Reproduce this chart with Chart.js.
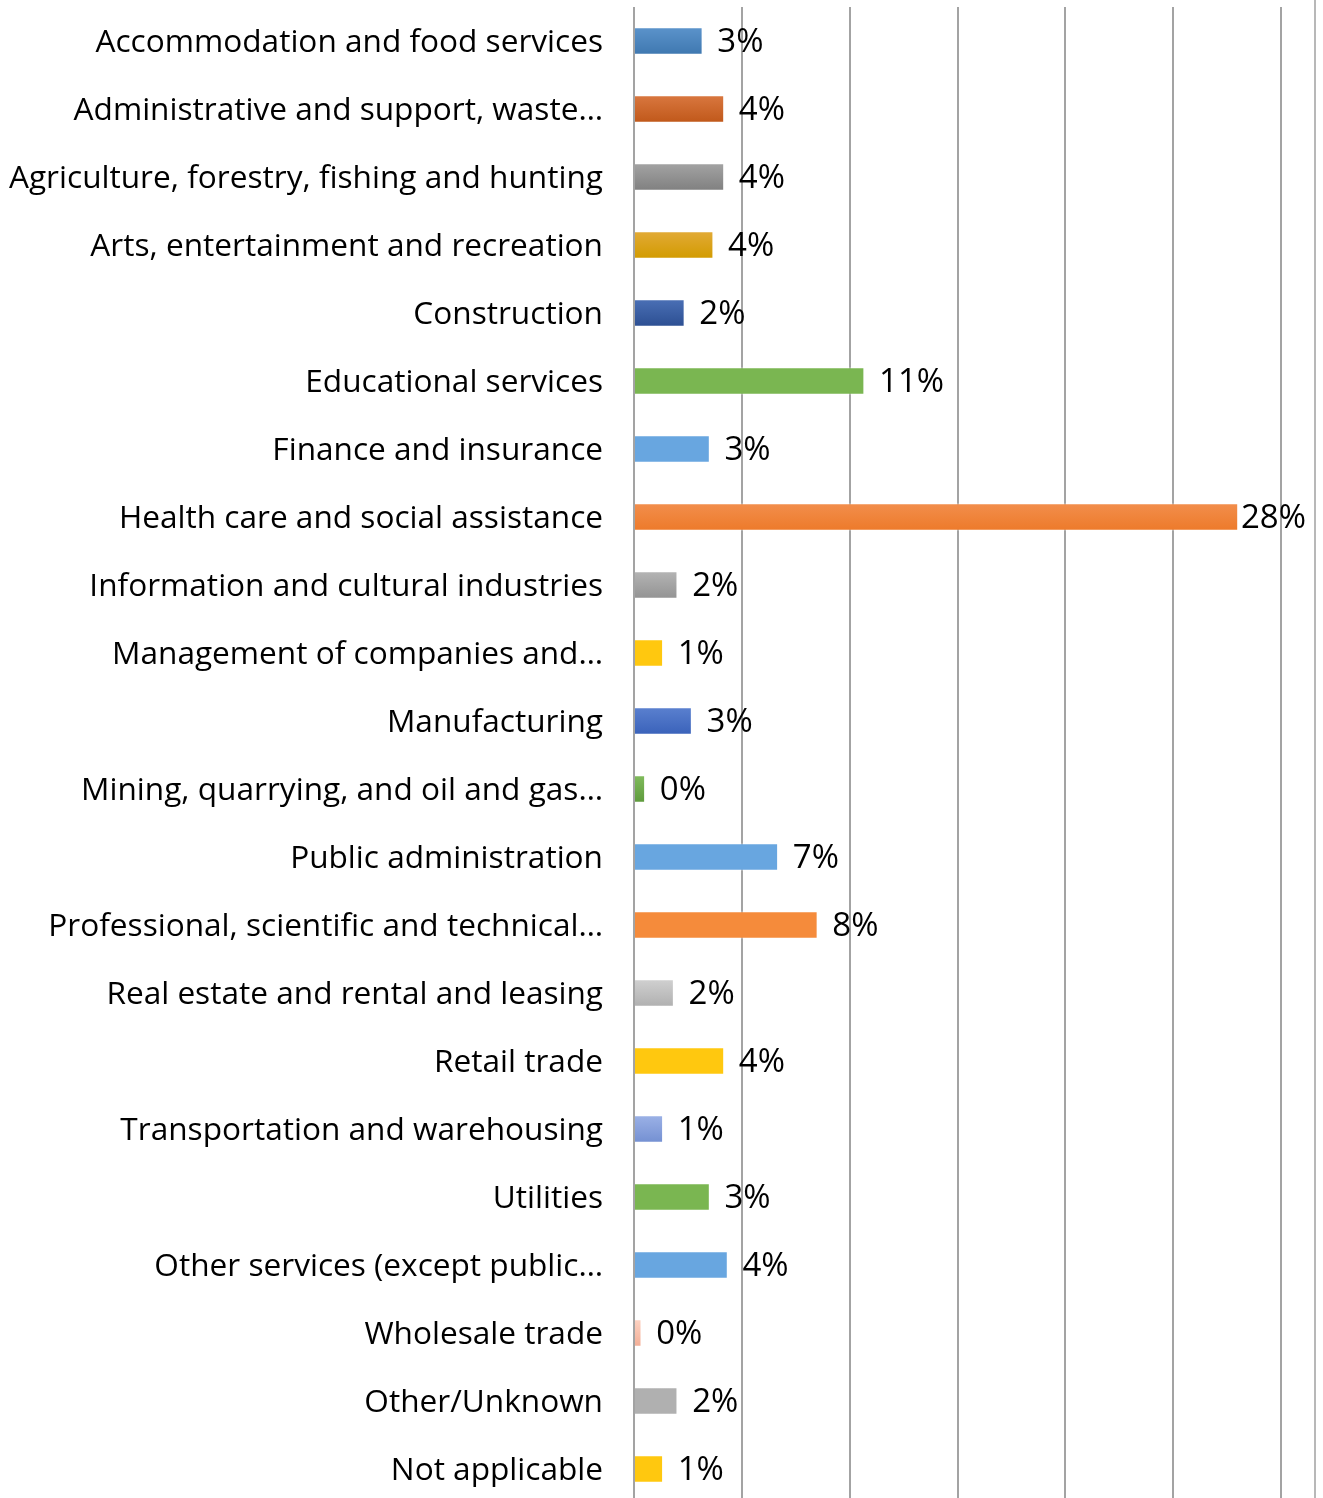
<!DOCTYPE html>
<html>
<head>
<meta charset="utf-8">
<script src="https://cdn.jsdelivr.net/npm/chart.js@4"></script>
<style>
  html, body { margin: 0; padding: 0; background: #ffffff; width: 1323px; height: 1498px; overflow: hidden; }
  #wrap { position: relative; width: 1323px; height: 1510px; }
  #frame { position: absolute; left: 1314px; top: 0; width: 2px; height: 1510px; background: #b8b8b8; }
</style>
</head>
<body>
<div id="wrap">
  <canvas id="c" width="1323" height="1510"></canvas>
  <div id="frame"></div>
</div>
<script>
// ---- data ----
const categories = [
  "Accommodation and food services",
  "Administrative and support, waste…",
  "Agriculture, forestry, fishing and hunting",
  "Arts, entertainment and recreation",
  "Construction",
  "Educational services",
  "Finance and insurance",
  "Health care and social assistance",
  "Information and cultural industries",
  "Management of companies and…",
  "Manufacturing",
  "Mining, quarrying, and oil and gas…",
  "Public administration",
  "Professional, scientific and technical…",
  "Real estate and rental and leasing",
  "Retail trade",
  "Transportation and warehousing",
  "Utilities",
  "Other services (except public…",
  "Wholesale trade",
  "Other/Unknown",
  "Not applicable"
];
// bar lengths (respondent counts)
const counts = [19, 25, 25, 22, 14, 64, 21, 168, 12, 8, 16, 3, 40, 51, 11, 25, 8, 21, 26, 2, 12, 8];
// data labels as printed
const pctLabels = ["3%", "4%", "4%", "4%", "2%", "11%", "3%", "28%", "2%", "1%", "3%", "0%", "7%", "8%", "2%", "4%", "1%", "3%", "4%", "0%", "2%", "1%"];
// axis
const axisMin = 0;
const axisMax = 180;
const axisStep = 30;

// ---- styles ----
const colorTop = ["#5b93cb", "#d9773f", "#a3a3a3", "#e2aa36", "#4a6fb5", "#7ab651", "#68a6e0", "#f28e4c", "#b4b4b4", "#ffc80f", "#5a80cf", "#80bb5c", "#68a6e0", "#f58b3b", "#d0d0d0", "#ffc80f", "#9bb1e6", "#7ab651", "#68a6e0", "#fcd2c2", "#b0b0b0", "#ffc80f"];
const colorBottom = ["#3f78b0", "#c0581a", "#808080", "#d29b00", "#2c4f92", "#7ab651", "#68a6e0", "#ed7a2a", "#939393", "#ffc80f", "#3a62ba", "#5e9a3c", "#68a6e0", "#f58b3b", "#b0b0b0", "#ffc80f", "#7490d2", "#7ab651", "#68a6e0", "#f3ae96", "#b0b0b0", "#ffc80f"];
const BAR_THICK = 27;
const LABEL_FONT = '33px "Open Sans", "Noto Sans", sans-serif';

function barFill(ctx) {
  const chart = ctx.chart;
  const i = ctx.dataIndex;
  if (!chart.chartArea || i === undefined) return colorBottom[i] || '#888';
  const yScale = chart.scales.y;
  const yc = yScale.getPixelForValue(i);
  const g = chart.ctx.createLinearGradient(0, yc - BAR_THICK / 2, 0, yc + BAR_THICK / 2);
  g.addColorStop(0, colorTop[i]);
  g.addColorStop(1, colorBottom[i]);
  return g;
}

const valueLabels = {
  id: 'valueLabels',
  afterDatasetsDraw(chart) {
    const meta = chart.getDatasetMeta(0);
    const ctx = chart.ctx;
    ctx.save();
    ctx.font = LABEL_FONT;
    ctx.fillStyle = '#000000';
    ctx.textAlign = 'left';
    ctx.textBaseline = 'middle';
    const limit = chart.chartArea.right + 25;
    meta.data.forEach((bar, i) => {
      const w = ctx.measureText(pctLabels[i]).width;
      const x = Math.min(bar.x + 15, limit - w);
      ctx.fillText(pctLabels[i], Math.max(x, bar.x + 2), bar.y + 2);
    });
    ctx.restore();
  }
};

new Chart(document.getElementById('c'), {
  type: 'bar',
  data: {
    labels: categories,
    datasets: [{
      data: counts,
      backgroundColor: barFill,
      borderColor: 'rgba(255,255,255,0.35)',
      borderWidth: 1,
      barThickness: BAR_THICK
    }]
  },
  options: {
    indexAxis: 'y',
    responsive: false,
    animation: false,
    devicePixelRatio: 1,
    layout: { padding: { top: 7, right: 42, bottom: 7, left: 0 } },
    plugins: { legend: { display: false }, tooltip: { enabled: false }, title: { display: false } },
    scales: {
      x: {
        min: axisMin, max: axisMax,
        ticks: { display: false, stepSize: axisStep },
        grid: { color: '#a3a3a3', lineWidth: 2, drawTicks: false },
        border: { display: false }
      },
      y: {
        grid: { display: false, drawTicks: false },
        border: { display: false },
        ticks: {
          color: '#000000',
          padding: 31,
          labelOffset: 2,
          autoSkip: false,
          font: { family: '"Open Sans", "Noto Sans", sans-serif', size: 31.6 }
        },
        afterFit(scale) {
          scale.width = 634;
          scale.paddingTop = 0;
          scale.paddingBottom = 0;
        }
      }
    }
  },
  plugins: [valueLabels]
});
</script>
</body>
</html>
